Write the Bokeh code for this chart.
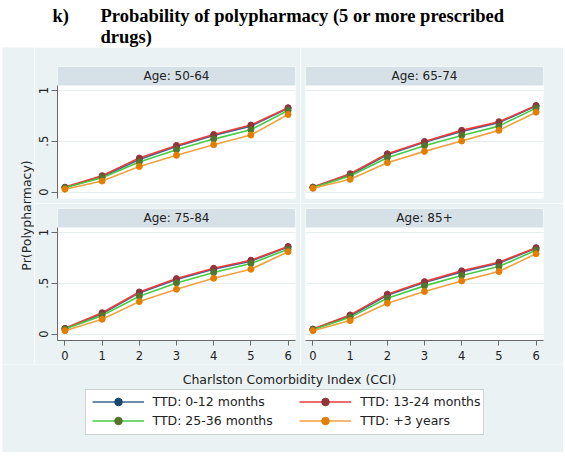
import math
from bokeh.plotting import figure
from bokeh.models import (Range1d, FixedTicker, Label, BoxAnnotation, Legend,
                          LegendItem, Spacer)
from bokeh.layouts import column, row
from bokeh.embed import file_html
from bokeh.resources import INLINE

# ---------------- data ----------------
cci = [0, 1, 2, 3, 4, 5, 6]
x_tick_labels = ["0", "1", "2", "3", "4", "5", "6"]
y_ticks = [0, 0.5, 1]
y_tick_labels = ["0", ".5", "1"]
age_groups = ["Age: 50-64", "Age: 65-74", "Age: 75-84", "Age: 85+"]
series_names = ["TTD: 0-12 months", "TTD: 13-24 months", "TTD: 25-36 months", "TTD: +3 years"]

# Age 50-64
a5064_ttd_0_12  = [0.045, 0.151, 0.321, 0.449, 0.557, 0.649, 0.825]
a5064_ttd_13_24 = [0.048, 0.161, 0.334, 0.459, 0.567, 0.659, 0.830]
a5064_ttd_25_36 = [0.042, 0.141, 0.295, 0.416, 0.521, 0.613, 0.803]
a5064_ttd_3plus = [0.028, 0.108, 0.252, 0.361, 0.466, 0.561, 0.764]
# Age 65-74
a6574_ttd_0_12  = [0.046, 0.170, 0.367, 0.489, 0.597, 0.682, 0.847]
a6574_ttd_13_24 = [0.049, 0.180, 0.377, 0.498, 0.607, 0.692, 0.852]
a6574_ttd_25_36 = [0.043, 0.157, 0.338, 0.456, 0.557, 0.649, 0.826]
a6574_ttd_3plus = [0.036, 0.125, 0.289, 0.400, 0.502, 0.607, 0.786]
# Age 75-84
a7584_ttd_0_12  = [0.052, 0.200, 0.405, 0.536, 0.638, 0.717, 0.857]
a7584_ttd_13_24 = [0.056, 0.210, 0.414, 0.546, 0.648, 0.727, 0.862]
a7584_ttd_25_36 = [0.049, 0.181, 0.372, 0.503, 0.605, 0.694, 0.835]
a7584_ttd_3plus = [0.033, 0.145, 0.319, 0.441, 0.549, 0.638, 0.810]
# Age 85+
a85_ttd_0_12  = [0.046, 0.178, 0.382, 0.507, 0.612, 0.697, 0.845]
a85_ttd_13_24 = [0.049, 0.188, 0.392, 0.516, 0.622, 0.707, 0.850]
a85_ttd_25_36 = [0.043, 0.164, 0.352, 0.474, 0.576, 0.664, 0.825]
a85_ttd_3plus = [0.033, 0.132, 0.303, 0.418, 0.523, 0.615, 0.790]

panel_data = [
    [a5064_ttd_0_12, a5064_ttd_13_24, a5064_ttd_25_36, a5064_ttd_3plus],
    [a6574_ttd_0_12, a6574_ttd_13_24, a6574_ttd_25_36, a6574_ttd_3plus],
    [a7584_ttd_0_12, a7584_ttd_13_24, a7584_ttd_25_36, a7584_ttd_3plus],
    [a85_ttd_0_12, a85_ttd_13_24, a85_ttd_25_36, a85_ttd_3plus],
]

# ---------------- style ----------------
GRAY = "#eaf2f3"
STRIP = "#d6e1e7"
GRIDC = "#e6eef0"
AXC = "#6a6a6a"
TXT = "#222222"
FONT = "DejaVu Sans"
line_colors = ["#3d6690", "#ee3b3b", "#44cc44", "#f0a040"]
marker_colors = ["#1a476f", "#90353b", "#55752f", "#e37e00"]

Y_LO, Y_HI, STRIP_Y = -0.064, 1.236, 1.049
X_LO, X_HI = -0.2, 6.2


def style_axis(ax, tick_out, standoff):
    ax.axis_line_color = AXC
    ax.major_tick_line_color = AXC
    ax.major_tick_in = 0
    ax.major_tick_out = tick_out
    ax.major_label_standoff = standoff
    ax.minor_tick_line_color = None
    ax.major_label_text_font = FONT
    ax.major_label_text_font_size = "11.5px"
    ax.major_label_text_color = TXT


def make_panel(idx):
    r, c = divmod(idx, 2)
    p = figure(
        frame_width=238, frame_height=132,
        x_range=Range1d(X_LO, X_HI), y_range=Range1d(Y_LO, Y_HI),
        x_axis_location="below" if r == 1 else None,
        y_axis_location="left" if c == 0 else None,
        output_backend="svg", toolbar_location=None,
        min_border_left=23 if c == 0 else 5,
        min_border_right=5 if c == 0 else 20,
        min_border_top=19 if r == 0 else 5,
        min_border_bottom=5 if r == 0 else 24,
    )
    p.background_fill_color = "white"
    p.border_fill_color = GRAY
    p.outline_line_color = None
    p.xgrid.visible = False
    p.ygrid.ticker = FixedTicker(ticks=y_ticks)
    p.ygrid.grid_line_color = GRIDC
    p.ygrid.grid_line_width = 1

    if c == 0:
        ax = p.yaxis[0]
        ax.ticker = FixedTicker(ticks=y_ticks)
        ax.major_label_overrides = {t: l for t, l in zip(y_ticks, y_tick_labels)}
        ax.major_label_orientation = "vertical"
        ax.bounds = (Y_LO, STRIP_Y)
        style_axis(ax, 6, 3)
    if r == 1:
        ax = p.xaxis[0]
        ax.ticker = FixedTicker(ticks=cci)
        ax.major_label_overrides = {t: l for t, l in zip(cci, x_tick_labels)}
        style_axis(ax, 5, 5)

    for vals, lc, mc in zip(panel_data[idx], line_colors, marker_colors):
        p.line(cci, vals, line_color=lc, line_width=1.6)
        p.scatter(cci, vals, size=6, fill_color=mc, line_color=mc)

    p.add_layout(BoxAnnotation(bottom=STRIP_Y, fill_color=STRIP, fill_alpha=1,
                               line_color=None))
    p.add_layout(Label(x=3, y=(STRIP_Y + Y_HI) / 2, text=age_groups[idx],
                       text_align="center", text_baseline="middle",
                       text_font=FONT, text_font_size="12px", text_color=TXT))
    return p


panels = [make_panel(i) for i in range(4)]


def blank(w, h, bg):
    f = figure(width=w, height=h, x_axis_type=None, y_axis_type=None,
               output_backend="svg", toolbar_location=None, min_border=0,
               x_range=Range1d(0, 1), y_range=Range1d(0, 1))
    f.outline_line_color = None
    f.background_fill_color = bg
    f.border_fill_color = bg
    return f


# header (title)
header = blank(565, 47, "white")
title_kw = dict(x_units="screen", y_units="screen", text_font="Liberation Serif",
                text_font_style="bold", text_font_size="18.5px", text_color="black",
                text_baseline="alphabetic", text_align="left")
header.add_layout(Label(x=52, y=31.1, text="k)", **title_kw))
header.add_layout(Label(x=100, y=31.1, text="Probability of polypharmacy (5 or more prescribed", **title_kw))
header.add_layout(Label(x=100, y=10.5, text="drugs)", **title_kw))

# y axis title
ylab = blank(32, 317, GRAY)
ylab.add_layout(Label(x=24, y=149, x_units="screen", y_units="screen",
                      text="Pr(Polypharmacy)", angle=math.pi / 2,
                      text_align="center", text_baseline="middle",
                      text_font=FONT, text_font_size="12.5px", text_color=TXT))

# bottom: x axis title + legend  (ranges in pixel-like units; legend series kept out of view)
bottom = figure(width=561, height=88, x_axis_type=None, y_axis_type=None,
                output_backend="svg", toolbar_location=None, min_border=0,
                x_range=Range1d(0, 561), y_range=Range1d(-100, -12))
bottom.outline_line_color = None
bottom.background_fill_color = GRAY
bottom.border_fill_color = GRAY
bottom.add_layout(Label(x=287, y=73.5, x_units="screen", y_units="screen",
                        text="Charlston Comorbidity Index (CCI)",
                        text_align="center", text_baseline="middle",
                        text_font=FONT, text_font_size="12.5px", text_color=TXT))
bottom.add_layout(BoxAnnotation(left=83, right=481, bottom=-82, top=-37,
                                fill_color="white", fill_alpha=1,
                                line_color="#7a7a7a", line_width=1))

items = []
for vals, name, lc, mc in zip(panel_data[0], series_names, line_colors, marker_colors):
    lr = bottom.line(cci, vals, line_color=lc, line_width=1.6)
    sr = bottom.scatter(cci, vals, size=6, fill_color=mc, line_color=mc)
    items.append(LegendItem(label=name, renderers=[lr, sr]))

leg_kw = dict(orientation="vertical", glyph_width=52, glyph_height=19,
              label_height=19, label_standoff=9, padding=0, spacing=0, margin=0,
              label_text_font=FONT, label_text_font_size="12.5px",
              label_text_color=TXT, border_line_color=None,
              background_fill_alpha=0)
legA = Legend(items=[items[0], items[2]], location=(89.5, 22), **leg_kw)
legB = Legend(items=[items[1], items[3]], location=(297.3, 22), **leg_kw)
bottom.add_layout(legA)
bottom.add_layout(legB)

grid = column(row(panels[0], panels[1]), row(panels[2], panels[3]))
layout = column(header,
                row(Spacer(width=2, height=317), ylab, grid),
                row(Spacer(width=2, height=88), bottom))

open("out.html", "w").write(file_html(layout, INLINE))
